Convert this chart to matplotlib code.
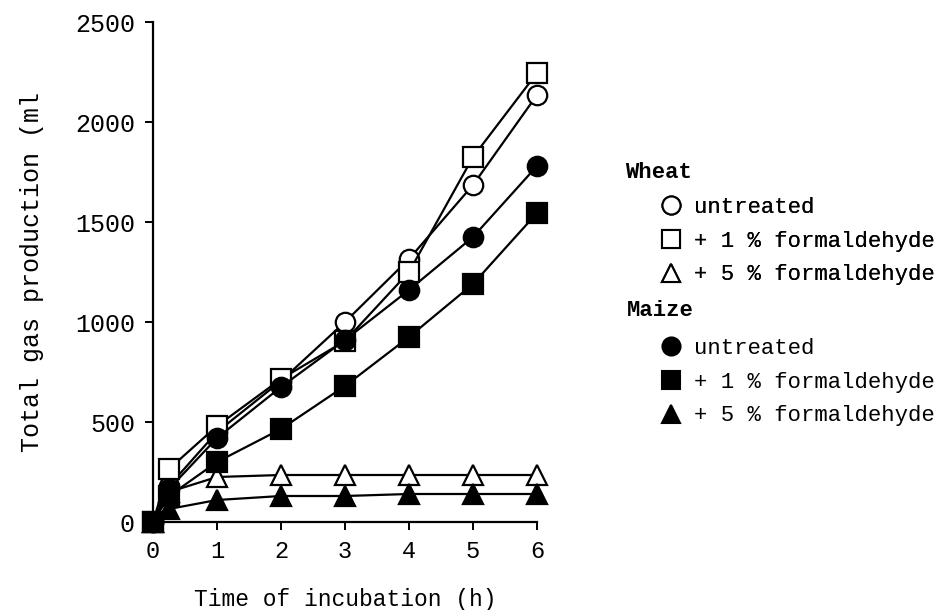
import matplotlib
matplotlib.use("Agg")
import matplotlib.pyplot as plt
from matplotlib.lines import Line2D

# incubation times (h)
hours = [0, 0.25, 1, 2, 3, 4, 5, 6]

# total gas production (ml)
wheat_untreated = [0, 180, 450, 705, 1000, 1315, 1685, 2135]
wheat_form1 = [0, 265, 480, 715, 905, 1250, 1825, 2245]
wheat_form5 = [0, 150, 225, 235, 235, 235, 235, 235]
maize_untreated = [0, 165, 420, 675, 910, 1160, 1425, 1780]
maize_form1 = [0, 130, 300, 465, 680, 925, 1190, 1545]
maize_form5 = [0, 65, 110, 130, 130, 140, 140, 140]

y_ticks = [0, 500, 1000, 1500, 2000, 2500]
x_ticks = [0, 1, 2, 3, 4, 5, 6]

FONT = "Liberation Mono"
plt.rcParams["font.family"] = [FONT, "DejaVu Sans Mono"]

fig = plt.figure(figsize=(9.35, 6.1), dpi=100)
ax = fig.add_axes([153 / 935, 88 / 610, 384 / 935, 500 / 610])

series = [
    (wheat_untreated, "o", "white", "untreated"),
    (wheat_form1, "s", "white", "+ 1 % formaldehyde"),
    (wheat_form5, "^", "white", "+ 5 % formaldehyde"),
    (maize_untreated, "o", "black", "untreated"),
    (maize_form1, "s", "black", "+ 1 % formaldehyde"),
    (maize_form5, "^", "black", "+ 5 % formaldehyde"),
]

for vals, mk, fc, lab in series:
    ax.plot(hours, vals, color="black", lw=1.6, marker=mk, markersize=14,
            markerfacecolor=fc, markeredgecolor="black", markeredgewidth=1.6,
            clip_on=False, zorder=3)

ax.set_xlim(0, 6)
ax.set_ylim(0, 2500)
ax.set_xticks(x_ticks)
ax.set_yticks(y_ticks)
ax.spines["top"].set_visible(False)
ax.spines["right"].set_visible(False)
ax.spines["left"].set_linewidth(1.6)
ax.spines["bottom"].set_linewidth(1.6)
ax.tick_params(direction="out", length=6, width=1.4, pad=7)
ax.tick_params(axis="y", labelsize=18)
ax.tick_params(axis="x", labelsize=17)

ax.set_xlabel("Time of incubation (h)", fontsize=16.5, labelpad=18)
ax.set_ylabel("Total gas production (ml", fontsize=18, labelpad=22)

# legend: two groups with bold headers
def handle(mk, fc):
    return Line2D([], [], linestyle="none", marker=mk, markersize=13,
                  markerfacecolor=fc, markeredgecolor="black", markeredgewidth=1.5)

wheat_h = [handle(mk, fc) for _, mk, fc, _ in series[:3]]
maize_h = [handle(mk, fc) for _, mk, fc, _ in series[3:]]
wheat_l = [lab for *_, lab in series[:3]]
maize_l = [lab for *_, lab in series[3:]]

fig.text(625 / 935, 1 - 172 / 610, "Wheat", fontsize=16, fontweight="bold", va="center")
fig.text(627 / 935, 1 - 311 / 610, "Maize", fontsize=16, fontweight="bold", va="center")

leg_kw = dict(loc="upper left", frameon=False, fontsize=16, handlelength=1.0,
              handletextpad=0.55, labelspacing=0.57, borderpad=0, borderaxespad=0)
leg1 = fig.legend(wheat_h, wheat_l, bbox_to_anchor=(660 / 935, 1 - 197 / 610), **leg_kw)
leg2 = fig.legend(maize_h, maize_l, bbox_to_anchor=(660 / 935, 1 - 338 / 610), **leg_kw)
fig.add_artist(leg1)

fig.savefig("out.png", dpi=100)
